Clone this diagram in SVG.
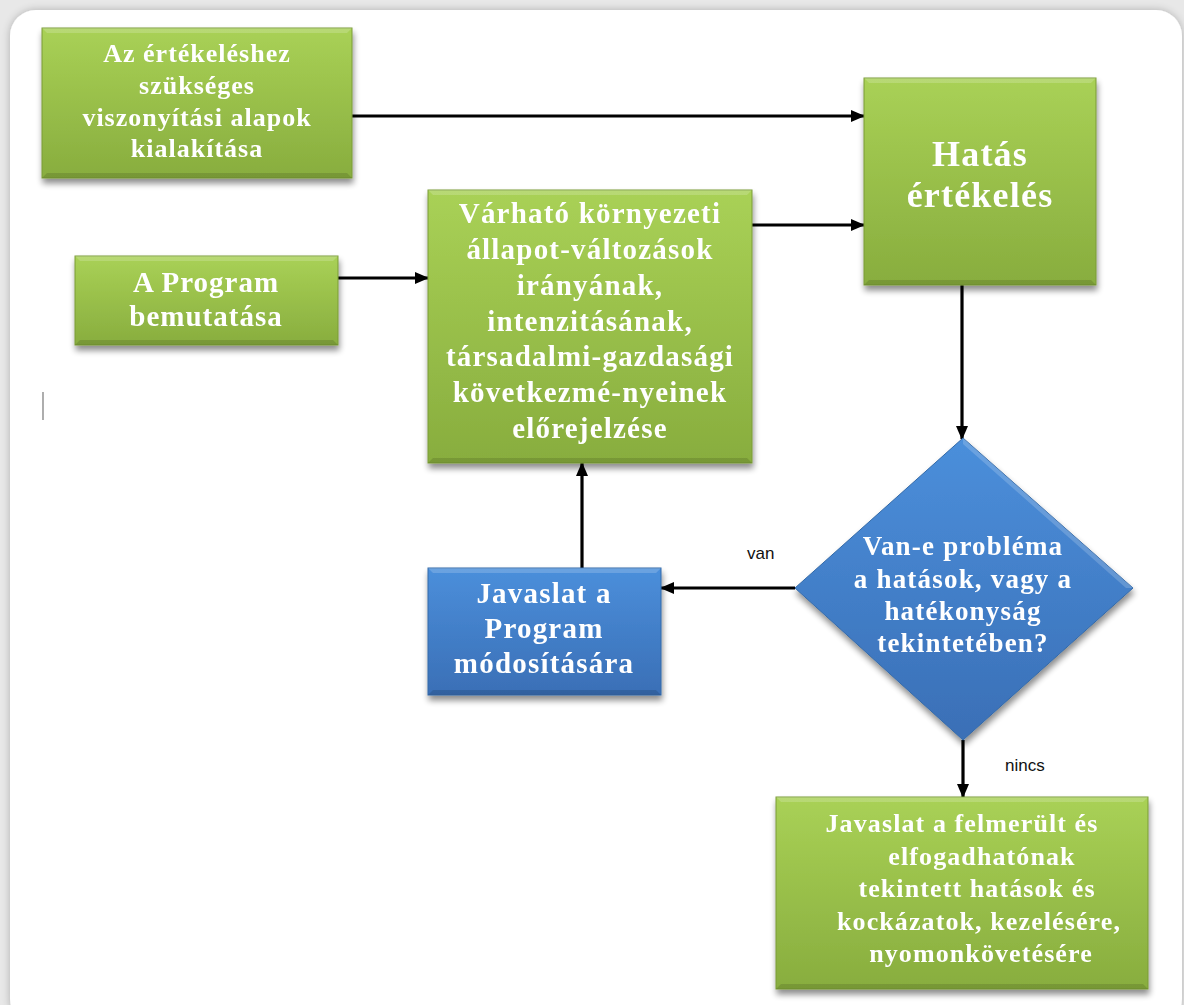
<svg xmlns="http://www.w3.org/2000/svg" width="1184" height="1005" viewBox="0 0 1184 1005">
<defs>
<linearGradient id="gGreen" x1="0" y1="0" x2="0" y2="1">
<stop offset="0" stop-color="#a9d156"/>
<stop offset="1" stop-color="#88ad3e"/>
</linearGradient>
<linearGradient id="gBlue" x1="0" y1="0" x2="0" y2="1">
<stop offset="0" stop-color="#4b8fdb"/>
<stop offset="1" stop-color="#3a6fb6"/>
</linearGradient>
<filter id="sh" x="-10%" y="-10%" width="125%" height="130%">
<feGaussianBlur in="SourceAlpha" stdDeviation="3"/>
<feOffset dx="1" dy="5" result="b"/>
<feComponentTransfer><feFuncA type="linear" slope="0.45"/></feComponentTransfer>
<feMerge><feMergeNode/><feMergeNode in="SourceGraphic"/></feMerge>
</filter>
<filter id="cardsh" x="-5%" y="-5%" width="110%" height="110%">
<feGaussianBlur in="SourceAlpha" stdDeviation="4"/>
<feOffset dx="0" dy="0"/>
<feComponentTransfer><feFuncA type="linear" slope="0.25"/></feComponentTransfer>
<feMerge><feMergeNode/><feMergeNode in="SourceGraphic"/></feMerge>
</filter>
<marker id="arr" viewBox="0 0 14 12" refX="13" refY="6" markerWidth="14" markerHeight="12" markerUnits="userSpaceOnUse" orient="auto">
<path d="M0,0 L14,6 L0,12 z" fill="#000"/>
</marker>
</defs>
<style>
.g{fill:url(#gGreen);stroke:#7a9c36;stroke-width:1}
.b{fill:url(#gBlue);stroke:#346aa8;stroke-width:1}
.t{font-family:"Liberation Serif","Times New Roman",serif;font-weight:bold;fill:#ffffff;text-anchor:middle}
.lbl{font-family:"Liberation Sans",Arial,sans-serif;font-size:17px;fill:#111}
.c{stroke:#000;stroke-width:3.2;fill:none}
.hl{fill:#ffffff;opacity:0.18}
.dk{fill:#000;opacity:0.12}
</style>
<rect x="0" y="0" width="1184" height="1005" fill="#e8e8e8"/>
<rect x="10" y="10" width="1172" height="1015" rx="26" fill="#ffffff" filter="url(#cardsh)"/>
<line x1="43" y1="392" x2="43" y2="420" stroke="#777" stroke-width="1.2"/>

<g id="connectors">
<line class="c" x1="352" y1="116" x2="864" y2="116" marker-end="url(#arr)"/>
<line class="c" x1="338" y1="278" x2="428" y2="278" marker-end="url(#arr)"/>
<line class="c" x1="752" y1="225" x2="864" y2="225" marker-end="url(#arr)"/>
<line class="c" x1="962" y1="285" x2="962" y2="439" marker-end="url(#arr)"/>
<line class="c" x1="795" y1="588" x2="661" y2="588" marker-end="url(#arr)"/>
<line class="c" x1="582" y1="568" x2="582" y2="463" marker-end="url(#arr)"/>
<line class="c" x1="963" y1="740" x2="963" y2="797" marker-end="url(#arr)"/>
<text class="lbl" x="747" y="559">van</text>
<text class="lbl" x="1005" y="771">nincs</text>
</g>

<g id="n1" filter="url(#sh)">
<rect class="g" x="42" y="28" width="310" height="150"/>
<polygon class="hl" points="42,28 352,28 347,33 47,33"/>
<polygon class="dk" points="42,178 352,178 347,173 47,173"/>
<text class="t" font-size="26" letter-spacing="1"><tspan x="197" y="62">Az értékeléshez</tspan><tspan x="197" y="94">szükséges</tspan><tspan x="197" y="126">viszonyítási alapok</tspan><tspan x="197" y="157">kialakítása</tspan></text>
</g>

<g id="n2" filter="url(#sh)">
<rect class="g" x="75" y="256" width="263" height="89"/>
<polygon class="hl" points="75,256 338,256 333,261 80,261"/>
<polygon class="dk" points="75,345 338,345 333,340 80,340"/>
<text class="t" font-size="29" letter-spacing="1"><tspan x="206" y="292">A Program</tspan><tspan x="206" y="326">bemutatása</tspan></text>
</g>

<g id="n3" filter="url(#sh)">
<rect class="g" x="428" y="190" width="324" height="273"/>
<polygon class="hl" points="428,190 752,190 747,195 433,195"/>
<polygon class="dk" points="428,463 752,463 747,458 433,458"/>
<text class="t" font-size="29" letter-spacing="1.2"><tspan x="590" y="223">Várható környezeti</tspan><tspan x="590" y="259">állapot-változások</tspan><tspan x="590" y="295">irányának,</tspan><tspan x="590" y="331">intenzitásának,</tspan><tspan x="590" y="366">társadalmi-gazdasági</tspan><tspan x="590" y="402">következmé-nyeinek</tspan><tspan x="590" y="438">előrejelzése</tspan></text>
</g>

<g id="n4" filter="url(#sh)">
<rect class="g" x="864" y="78" width="232" height="207"/>
<polygon class="hl" points="864,78 1096,78 1091,83 869,83"/>
<polygon class="dk" points="864,285 1096,285 1091,280 869,280"/>
<text class="t" font-size="36" letter-spacing="1.2"><tspan x="980" y="166">Hatás</tspan><tspan x="980" y="207">értékelés</tspan></text>
</g>

<g id="n5" filter="url(#sh)">
<polygon class="b" points="963,438 1133,588 963,740 795,588"/>
<polygon class="hl" points="963,438 1133,588 1126,588 963,444"/>
<text class="t" font-size="27" letter-spacing="1.2"><tspan x="963" y="555">Van-e probléma</tspan><tspan x="963" y="588">a hatások, vagy a</tspan><tspan x="963" y="620">hatékonyság</tspan><tspan x="963" y="652">tekintetében?</tspan></text>
</g>

<g id="n6" filter="url(#sh)">
<rect class="b" x="428" y="568" width="233" height="127"/>
<polygon class="hl" points="428,568 661,568 656,573 433,573"/>
<polygon class="dk" points="428,695 661,695 656,690 433,690"/>
<text class="t" font-size="29" letter-spacing="1.2"><tspan x="544" y="603">Javaslat a</tspan><tspan x="544" y="638">Program</tspan><tspan x="544" y="673">módosítására</tspan></text>
</g>

<g id="n7" filter="url(#sh)">
<rect class="g" x="776" y="797" width="372" height="192"/>
<polygon class="hl" points="776,797 1148,797 1143,802 781,802"/>
<polygon class="dk" points="776,989 1148,989 1143,984 781,984"/>
<text class="t" font-size="26" letter-spacing="1.1"><tspan x="962" y="832">Javaslat a felmerült és</tspan><tspan x="982" y="865">elfogadhatónak</tspan><tspan x="977" y="897">tekintett hatások és</tspan><tspan x="979" y="930">kockázatok, kezelésére,</tspan><tspan x="981" y="962">nyomonkövetésére</tspan></text>
</g>
</svg>
